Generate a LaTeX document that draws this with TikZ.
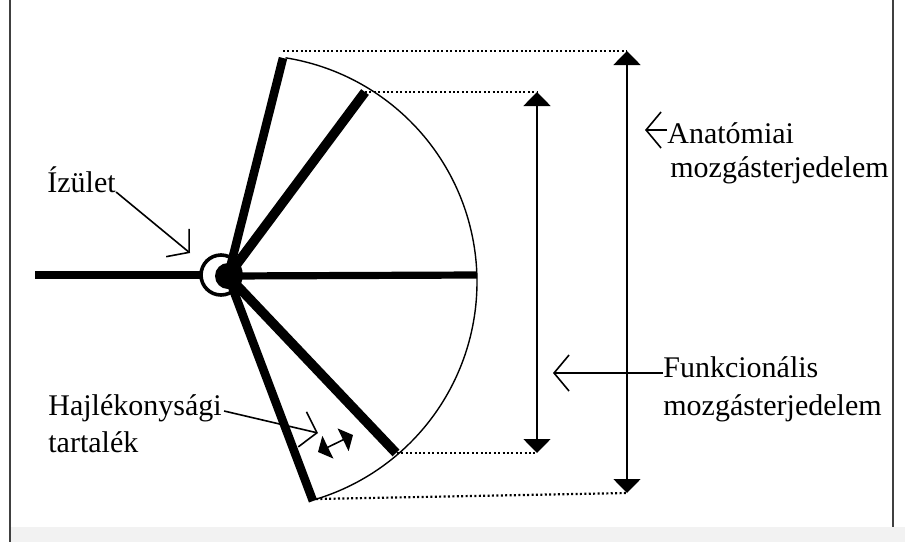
\documentclass[tikz,border=0pt]{standalone}
\usepackage{fontspec}
\setmainfont{Liberation Serif}
\usetikzlibrary{arrows.meta}
\begin{document}
\begin{tikzpicture}[x=0.5pt,y=-0.5pt,
  spoke/.style={line width=4.3pt},
  dotline/.style={line width=1.1pt, dash pattern=on 1pt off 1.2pt},
  dimarrow/.style={line width=0.9pt, {Triangle[length=7pt,width=13.5pt]}-{Triangle[length=7pt,width=13.5pt]}},
  leader/.style={line width=0.8pt, -{Straight Barb[length=7.5pt,width=18pt,line width=0.8pt]}},
  smallarrow/.style={line width=0.8pt, {Triangle[length=5.5pt,width=12.5pt]}-{Triangle[length=5.5pt,width=12.5pt]}},
  lbl/.style={font=\fontsize{15}{18}\selectfont, inner sep=0pt, anchor=base west}]
\useasboundingbox (0,0) rectangle (905,542);
\fill[white] (0,0) rectangle (905,542);
\fill[black!5] (11,527) rectangle (905,542);
\draw[line width=1pt, black!75] (10,0) -- (10,542);
\draw[line width=1pt, black!75] (893,0) -- (893,527);

% key points
\coordinate (P) at (228,276);
\coordinate (L) at (35,275);
\coordinate (Lc) at (201,275);
\coordinate (e1) at (283,58);
\coordinate (e2) at (365,92);
\coordinate (e3) at (477,275);
\coordinate (e4) at (396,453);
\coordinate (e5) at (313,501);
\coordinate (d1) at (283,51);
\coordinate (o1) at (627,51);
\coordinate (i1) at (537,92);
\coordinate (d4) at (397,453);
\coordinate (i2) at (537,453);
\coordinate (d5) at (316,499);
\coordinate (o2) at (627,493);

% range arc
\draw[line width=0.7pt] plot[domain=81:-73.5, samples=80, smooth] ({250+227*cos(\x)},{282-227*sin(\x)});

% dotted projection lines
\draw[dotline] (d1) -- (o1);
\draw[dotline] (e2) -- (i1);
\draw[dotline] (d4) -- (i2);
\draw[dotline] (d5) -- (o2);

% dimension arrows
\draw[dimarrow] (o1) -- (o2);
\draw[dimarrow] (i1) -- (i2);

% limb and spokes
\draw[line width=3.6pt] (L) -- (Lc);
\draw[spoke] (P) -- (e1);
\draw[spoke, line width=4.8pt] (P) -- (e2);
\draw[line width=3.6pt] (P) -- (e3);
\draw[spoke, line width=4.8pt] (P) -- (e4);
\draw[spoke] (P) -- (e5);

% joint
\draw[line width=1.8pt] (221,275) circle[radius=10pt];
\fill (P) circle[radius=6.5pt];

% labels
\node[lbl] (iz) at (47,192) {Ízület};
\node[lbl] (haj1) at (48,415) {Hajlékonysági};
\node[lbl] (haj2) at (48,452) {tartalék};
\node[lbl] (an1) at (667,143) {Anatómiai};
\node[lbl] (an2) at (670,177) {mozgásterjedelem};
\node[lbl] (fu1) at (663,377) {Funkcionális};
\node[lbl] (fu2) at (663,415) {mozgásterjedelem};

% leaders
\coordinate (izt) at (190,253);
\coordinate (hajt) at (318,433);
\coordinate (ant) at (645,130);
\coordinate (fut) at (553,373);
\draw[leader] (iz.base east) -- (izt);
\draw[leader] ([xshift=1pt,yshift=2pt]haj1.base east) -- (hajt);
\draw[leader] (an1.west |- ant) -- (ant);
\draw[leader] (fu1.west |- fut) -- (fut);

% flexibility reserve arrow
\coordinate (f1) at (318,452);
\coordinate (f2) at (353,435);
\draw[smallarrow] (f1) -- (f2);
\end{tikzpicture}
\end{document}
